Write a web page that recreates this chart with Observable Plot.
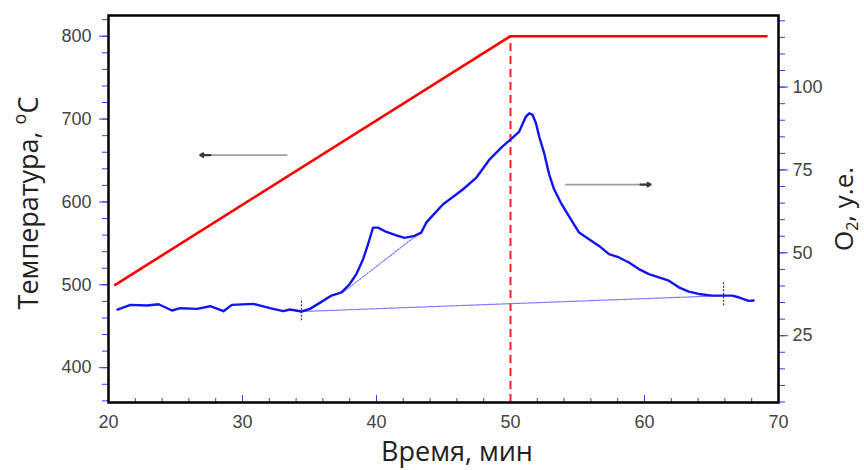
<!DOCTYPE html>
<html><head><meta charset="utf-8">
<script src="https://cdn.jsdelivr.net/npm/d3@7"></script>
<script src="https://cdn.jsdelivr.net/npm/@observablehq/plot@0.6"></script>
<style>html,body{margin:0;padding:0;background:#fff}</style>
</head><body><div id="chart"></div>
<script>
// ---- data ----
const o2Time = [20.67,21.64,22.88,23.74,24.74,25.36,26.6,27.59,28.58,29.2,30.81,32.05,33.04,33.54,34.41,35.03,35.77,36.64,37.39,38.0,38.5,39.0,39.37,39.74,40.11,40.74,41.48,42.1,42.84,43.34,43.71,44.2,44.95,46.44,47.43,48.42,49.41,50.04,50.65,51.15,51.4,51.65,51.9,52.14,52.51,52.89,53.26,53.76,54.38,55.12,55.86,56.61,57.35,58.1,58.84,59.58,60.33,61.07,61.82,62.56,63.3,64.05,65.04,65.91,66.53,67.02,67.77,68.14];
const o2Value = [32.9,34.3,34.1,34.5,32.6,33.3,33.1,33.9,32.4,34.3,34.6,33.3,32.4,32.9,32.3,33.1,34.9,37.1,38.1,40.6,43.6,48.1,52.6,57.6,57.6,56.3,55.3,54.5,55.1,56.1,59.1,61.3,64.6,69.1,72.6,78.1,82.1,84.3,86.6,91.1,92.1,91.6,89.1,85.1,80.1,73.6,69.1,65.1,60.9,56.1,54.1,52.1,49.6,48.6,47.1,45.1,43.6,42.6,41.6,39.6,38.3,37.6,37.1,37.1,37.1,36.6,35.5,35.6];
const tempTime = [20.5, 50, 69.1];
const tempValue = [500, 800, 800];
const baseTime = [34.4, 66.0];
const baseO2 = [32.3, 37.1];
const tangentTime = [37.5, 43.1];
const tangentO2 = [38.1, 55.6];
const markTime = [34.4, 65.9];
const markLo = [29.5, 34.0];
const markHi = [36.0, 41.2];
const switchTime = [50];
const leftArrow = {from: 33.3, to: 26.85, headFrom: 27.6, temp: 656.6};
const rightArrow = {from: 54.13, to: 60.45, headFrom: 59.7, o2: 70.6};
const xMajor = [20,30,40,50,60,70];
const xMinor = d3.range(20, 71, 2);
const leftMajor = [400,500,600,700,800];
const leftMinor = d3.range(360, 821, 20);
const rightMajor = [25,50,75,100];
const rightMinor = d3.range(5, 121, 5);

// ---- scales ----
const yDomain = [358, 825];
const o2ToT = v => 338.6 + 4 * v;
const tToO2 = t => (t - 338.6) / 4;

const o2Data = o2Time.map((t, i) => ({t, v: o2Value[i]}));
const tempData = tempTime.map((t, i) => ({t, v: tempValue[i]}));
const baseData = baseTime.map((t, i) => ({t, v: baseO2[i]}));
const tangentData = tangentTime.map((t, i) => ({t, v: tangentO2[i]}));
const markData = markTime.map((t, i) => ({t, lo: markLo[i], hi: markHi[i]}));

const tickBlue = "#3a3aff";
const labelGray = "#444";

const plot = Plot.plot({
  width: 864, height: 470,
  marginLeft: 108, marginRight: 86, marginTop: 15, marginBottom: 68,
  x: {domain: [20, 70]},
  y: {domain: yDomain},
  style: {background: "white", fontFamily: "'Liberation Sans', Arial, sans-serif"},
  marks: [
    Plot.axisY({anchor: "left", ticks: leftMinor, tickSize: 6, stroke: tickBlue, tickFormat: () => "", label: null}),
    Plot.axisY({anchor: "left", ticks: leftMajor, tickSize: 9, tickPadding: 8, stroke: tickBlue, fill: labelGray, fontSize: 18, label: null}),
    Plot.axisY({anchor: "right", ticks: rightMinor.map(o2ToT), tickSize: 6, stroke: tickBlue, tickFormat: () => "", label: null}),
    Plot.axisY({anchor: "right", ticks: rightMajor.map(o2ToT), tickSize: 9, tickPadding: 5, stroke: tickBlue, fill: labelGray, fontSize: 18, tickFormat: t => Math.round(tToO2(t)), label: null}),
    Plot.axisX({anchor: "bottom", ticks: xMinor, tickSize: -4, stroke: tickBlue, tickFormat: () => "", label: null}),
    Plot.axisX({anchor: "bottom", ticks: xMajor, tickSize: -7, stroke: tickBlue, tickFormat: () => "", label: null}),
    Plot.axisX({anchor: "bottom", ticks: xMajor, tickSize: 0, tickPadding: 13, fill: labelGray, fontSize: 18, label: null}),
    Plot.ruleX(switchTime, {x: d => d, y1: yDomain[0], y2: 800, stroke: "#ff2020", strokeWidth: 2, strokeDasharray: "8,5"}),
    Plot.line(baseData, {x: "t", y: d => o2ToT(d.v), stroke: "#7a7aff", strokeWidth: 1.2, strokeDasharray: "1.5,1"}),
    Plot.line(tangentData, {x: "t", y: d => o2ToT(d.v), stroke: "#7a7aff", strokeWidth: 1.2, strokeDasharray: "1.5,1.5"}),
    Plot.ruleX(markData, {x: "t", y1: d => o2ToT(d.lo), y2: d => o2ToT(d.hi), stroke: "#3030ff", strokeWidth: 1.3, strokeDasharray: "2,1.5"}),
    Plot.line(tempData, {x: "t", y: "v", stroke: "#ff0000", strokeWidth: 2.6}),
    Plot.line(o2Data, {x: "t", y: d => o2ToT(d.v), stroke: "#1414f0", strokeWidth: 2.4, strokeLinejoin: "round"}),
    Plot.arrow([leftArrow], {x1: "from", x2: "to", y1: "temp", y2: "temp", stroke: "#a0a0a0", strokeWidth: 1.8, headLength: 0, bend: 0}),
    Plot.arrow([leftArrow], {x1: "headFrom", x2: "to", y1: "temp", y2: "temp", stroke: "#3a3a3a", strokeWidth: 2.2, headLength: 9, bend: 0}),
    Plot.arrow([rightArrow], {x1: "from", x2: "to", y1: d => o2ToT(d.o2), y2: d => o2ToT(d.o2), stroke: "#a0a0a0", strokeWidth: 1.8, headLength: 0, bend: 0}),
    Plot.arrow([rightArrow], {x1: "headFrom", x2: "to", y1: d => o2ToT(d.o2), y2: d => o2ToT(d.o2), stroke: "#3a3a3a", strokeWidth: 2.2, headLength: 9, bend: 0}),
    Plot.frame({stroke: "black", strokeWidth: 2.5})
  ]
});

const svg = d3.select(plot);
const titleFont = "'Open Sans', 'Noto Sans', sans-serif";
const lt = svg.append("text")
  .attr("transform", "translate(38,203) rotate(-90)")
  .attr("text-anchor", "middle")
  .attr("font-family", titleFont).attr("font-size", 27).attr("fill", "#222");
lt.append("tspan").text("Температура, ");
lt.append("tspan").attr("font-size", 18).attr("dy", -12).text("o");
lt.append("tspan").attr("dy", 12).text("C");

const rt = svg.append("text")
  .attr("transform", "translate(853,209) rotate(-90)")
  .attr("text-anchor", "middle")
  .attr("font-family", titleFont).attr("font-size", 26).attr("fill", "#222");
rt.append("tspan").text("O");
rt.append("tspan").attr("font-size", 16).attr("dy", 5).text("2");
rt.append("tspan").attr("dy", -5).text(", у.е.");

svg.append("text")
  .attr("x", 457).attr("y", 461)
  .attr("text-anchor", "middle")
  .attr("font-family", titleFont).attr("font-size", 27).attr("fill", "#222")
  .text("Время, мин");

document.getElementById("chart").appendChild(plot);
</script>
</body></html>
